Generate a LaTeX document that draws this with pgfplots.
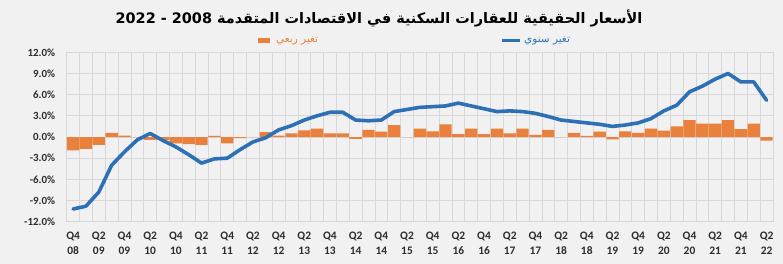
\documentclass[border=0pt]{standalone}
\usepackage{fontspec}
\usepackage{pgfplots}
\usepackage{pgfplotstable}
\pgfplotsset{compat=1.18}
\setmainfont{Carlito}
\newfontfamily\arabicfont[Script=Arabic]{DejaVu Sans}
\TeXXeTstate=1
\definecolor{bg}{RGB}{241,241,241}
\definecolor{gridc}{RGB}{216,216,216}
\definecolor{barc}{RGB}{233,128,60}
\definecolor{linec}{RGB}{46,112,182}
\definecolor{tickc}{RGB}{45,45,45}
\pgfplotstableread{
i q a
0 -1.9 -10.2
1 -1.7 -9.8
2 -1.1 -7.8
3 0.6 -4.0
4 0.2 -2.1
5 0.0 -0.4
6 -0.4 0.5
7 -0.4 -0.5
8 -0.9 -1.4
9 -1.0 -2.5
10 -1.1 -3.7
11 0.15 -3.1
12 -0.9 -3.0
13 -0.15 -1.8
14 0.0 -0.7
15 0.7 -0.1
16 0.2 1.0
17 0.5 1.6
18 0.95 2.4
19 1.2 3.0
20 0.5 3.5
21 0.5 3.5
22 -0.25 2.4
23 1.0 2.3
24 0.75 2.4
25 1.7 3.6
26 0.0 3.9
27 1.2 4.2
28 0.8 4.3
29 1.8 4.4
30 0.4 4.8
31 1.2 4.4
32 0.4 4.0
33 1.2 3.6
34 0.5 3.7
35 1.2 3.6
36 0.3 3.35
37 1.0 2.9
38 0.0 2.4
39 0.6 2.2
40 0.15 2.0
41 0.75 1.8
42 -0.35 1.5
43 0.8 1.7
44 0.6 2.0
45 1.2 2.6
46 0.9 3.7
47 1.5 4.5
48 2.4 6.4
49 1.9 7.2
50 1.9 8.2
51 2.4 9.0
52 1.1 7.8
53 1.9 7.8
54 -0.5 5.2
}\data
\begin{document}
\begin{tikzpicture}
\fill[bg] (0,0) rectangle (783bp,264bp);
\begin{axis}[
  at={(66.7bp,42.3bp)}, anchor=south west,
  width=706.3bp, height=169.4bp, scale only axis,
  xmin=-0.5, xmax=54.5, ymin=-12, ymax=12,
  axis line style={draw=none},
  tick style={draw=none},
  ytick={-12,-9,...,12},
  yticklabel={\pgfmathprintnumber[fixed,fixed zerofill,precision=1]{\tick}\%},
  /pgf/number format/assume math mode=true,
  yticklabel style={font=\fontsize{11}{12}\selectfont\bfseries, text=tickc, xshift=-8bp},
  xtick={0,2,...,54},
  xticklabels={{Q4\\08},{Q2\\09},{Q4\\09},{Q2\\10},{Q4\\10},{Q2\\11},{Q4\\11},{Q2\\12},{Q4\\12},{Q2\\13},{Q4\\13},{Q2\\14},{Q4\\14},{Q2\\15},{Q4\\15},{Q2\\16},{Q4\\16},{Q2\\17},{Q4\\17},{Q2\\18},{Q4\\18},{Q2\\19},{Q4\\19},{Q2\\20},{Q4\\20},{Q2\\21},{Q4\\21},{Q2\\22}},
  xticklabel style={font=\fontsize{11.5}{15}\selectfont\bfseries, text=tickc, align=center, yshift=-7bp},
  minor xtick={-0.5,0.5,...,54.5},
  xminorgrids=true, ymajorgrids=true, xmajorgrids=false,
  minor grid style={draw=gridc, line width=0.7bp},
  major grid style={draw=gridc, line width=0.7bp},
  clip=false,
]
\addplot[ybar, bar width=12.3bp, fill=barc, draw=none] table[x=i, y=q] {\data};
\addplot[linec, line width=3.6bp, line join=round, line cap=round, mark=none] table[x=i, y=a] {\data};
\end{axis}
\node[font=\arabicfont\bfseries\fontsize{14.5}{17}\selectfont, text=black] at (379bp,246bp)
  {\beginR الأسعار الحقيقية للعقارات السكنية في الاقتصادات المتقدمة \beginL 2022 - 2008\endL\endR};
\fill[barc] (258bp,220.5bp) rectangle (270bp,225.5bp);
\node[anchor=west, inner sep=0pt, font=\arabicfont\fontsize{10.5}{12}\selectfont, text=barc] at (276bp,223bp) {\beginR تغير ربعي\endR};
\draw[linec, line width=3bp] (502bp,223bp) -- (520bp,223bp);
\node[anchor=west, inner sep=0pt, font=\arabicfont\fontsize{10.5}{12}\selectfont, text=linec] at (524bp,223bp) {\beginR تغير سنوي\endR};
\pgfresetboundingbox
\path[use as bounding box] (0,0) rectangle (783bp,264bp);
\end{tikzpicture}
\end{document}
